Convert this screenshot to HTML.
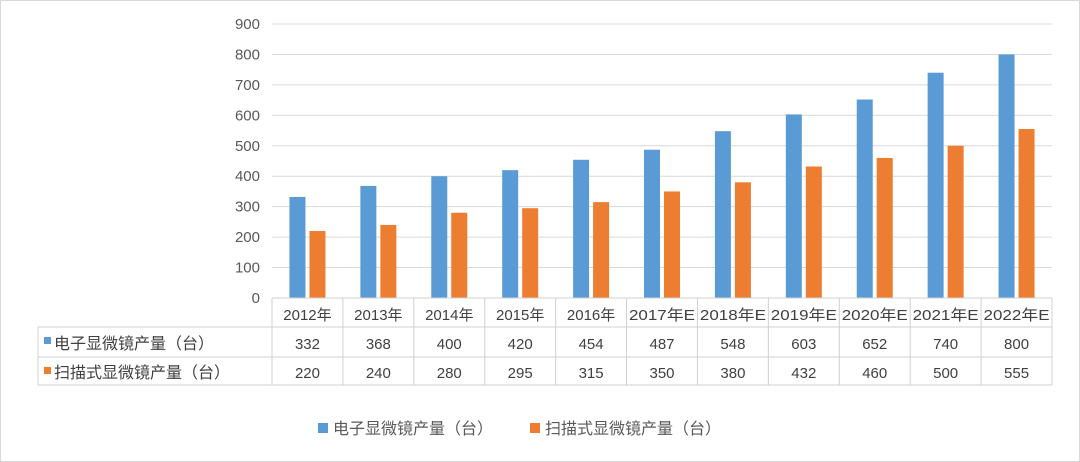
<!DOCTYPE html>
<html><head><meta charset="utf-8"><style>
body{margin:0;background:#fff}
svg{display:block;font-family:"Liberation Sans","Noto Sans CJK SC",sans-serif}
</style></head><body>
<svg width="1080" height="462" viewBox="0 0 1080 462">
<rect x="0.5" y="0.5" width="1079" height="461" fill="#fff" stroke="#d9d9d9"/>
<g id="grid"></g>
<g id="yt" font-size="15" fill="#595959" text-anchor="end"></g>
<g id="bars"></g>
<g id="table" font-size="15" fill="#404040"></g>
<g font-size="16" fill="#595959">
<rect x="318" y="423" width="10" height="10" fill="#5b9bd5"/>
<text x="333" y="434">电子显微镜产量（台）</text>
<rect x="530" y="423" width="10" height="10" fill="#ed7d31"/>
<text x="545" y="434">扫描式显微镜产量（台）</text>
</g>
</svg>
<script>
const categories=["2012年","2013年","2014年","2015年","2016年","2017年E","2018年E","2019年E","2020年E","2021年E","2022年E"];
const electron=[332,368,400,420,454,487,548,603,652,740,800];
const scanning=[220,240,280,295,315,350,380,432,460,500,555];
const yTicks=[0,100,200,300,400,500,600,700,800,900];
const NS="http://www.w3.org/2000/svg";
const x0=272,x1=1052,yb=298,yt=24,ymax=900;
const cw=(x1-x0)/categories.length;
const y=v=>yb-(v/ymax)*(yb-yt);
function mk(tag,attrs,parent,txt){const e=document.createElementNS(NS,tag);for(const k in attrs)e.setAttribute(k,attrs[k]);if(txt!=null)e.textContent=txt;parent.appendChild(e);return e;}
const grid=document.getElementById('grid'),ytg=document.getElementById('yt'),bars=document.getElementById('bars'),tb=document.getElementById('table');
yTicks.forEach(t=>{
 if(t>0){const l=mk('line',{x1:x0,x2:x1,y1:y(t),y2:y(t),stroke:'#d9d9d9','stroke-width':1},grid);
 
 }
 const tx=mk('text',{x:x0-12,y:y(t)+5},ytg,t);
 
 
});
categories.forEach((c,i)=>{
 const cx=x0+cw*(i+0.5);
 const b1=mk('rect',{x:cx-18,y:y(electron[i]),width:16,height:yb-y(electron[i]),fill:'#5b9bd5'},bars);
 
 
 const b2=mk('rect',{x:cx+2,y:y(scanning[i]),width:16,height:yb-y(scanning[i]),fill:'#ed7d31'},bars);
 
 
 const h=mk('text',{x:cx,y:320,'text-anchor':'middle',textLength:c.length>5?66:'', 'font-size':15},tb,c);
 if(c.length<=5)h.removeAttribute('textLength');else h.setAttribute('lengthAdjust','spacingAndGlyphs');
 
 
 const v1=mk('text',{x:cx,y:349,'text-anchor':'middle'},tb,electron[i]);
 
 
 const v2=mk('text',{x:cx,y:378,'text-anchor':'middle'},tb,scanning[i]);
 
 
});
const ln=(a,b,c,d)=>{const l=mk('line',{x1:a,y1:b,x2:c,y2:d,stroke:'#d0d0d0','stroke-width':1},tb);};
ln(x0,yb,x1,yb);ln(38,327,x1,327);ln(38,357,x1,357);ln(38,385,x1,385);
ln(38,327,38,385);
for(let i=0;i<=categories.length;i++){const xx=x0+cw*i;ln(xx,yb,xx,385);}
const sw1=mk('rect',{x:44,y:337,width:7,height:7,fill:'#5b9bd5'},tb);


const r1=mk('text',{x:54,y:349,'font-size':16},tb,'电子显微镜产量（台）');


const sw2=mk('rect',{x:44,y:367,width:7,height:7,fill:'#ed7d31'},tb);


const r2=mk('text',{x:54,y:378,'font-size':16},tb,'扫描式显微镜产量（台）');


</script>
</body></html>
